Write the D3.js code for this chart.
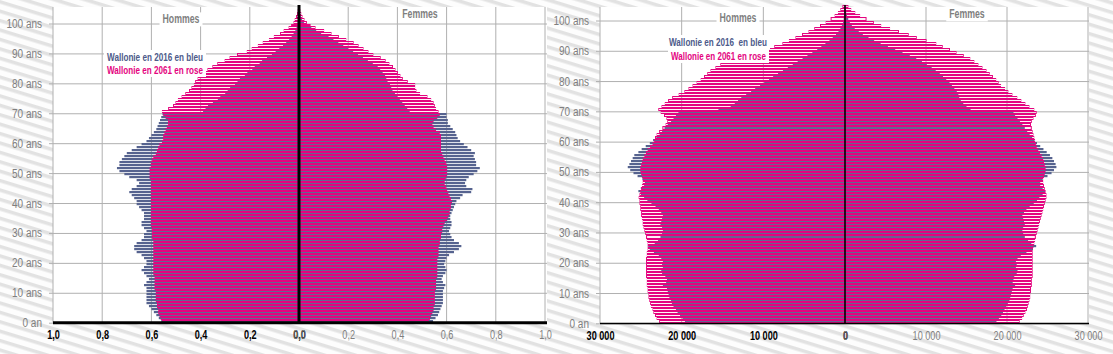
<!DOCTYPE html>
<html>
<head>
<meta charset="utf-8">
<script src="https://cdn.jsdelivr.net/npm/d3@7"></script>
<style>
  body { margin: 0; background: #fff; }
  text { font-family: "Liberation Sans", Arial, sans-serif; }
</style>
</head>
<body>
<script>
// ages 0..104, one bar per year
const ages = d3.range(0, 105);

// left panel : share of the population (%)
const pctH2016 = [0.56,0.57,0.58,0.59,0.60,0.61,0.62,0.62,0.62,0.62,
  0.62,0.62,0.63,0.62,0.61,0.62,0.63,0.64,0.63,0.62,
  0.62,0.63,0.64,0.66,0.67,0.67,0.66,0.64,0.63,0.63,
  0.62,0.63,0.64,0.64,0.63,0.63,0.63,0.64,0.65,0.66,
  0.66,0.67,0.68,0.69,0.68,0.66,0.65,0.66,0.69,0.71,
  0.73,0.74,0.73,0.73,0.72,0.71,0.70,0.68,0.66,0.64,
  0.62,0.61,0.60,0.59,0.58,0.575,0.57,0.565,0.56,0.555,
  0.39,0.38,0.37,0.35,0.33,0.32,0.30,0.29,0.28,0.26,
  0.25,0.24,0.22,0.21,0.19,0.18,0.16,0.15,0.13,0.11,
  0.095,0.08,0.065,0.052,0.04,0.03,0.022,0.015,0.01,0.007,
  0.005,0.003,0.002,0.001,0.001];
const pctH2061 = [0.555,0.56,0.565,0.57,0.57,0.575,0.575,0.58,0.58,0.58,
  0.58,0.585,0.585,0.585,0.585,0.585,0.59,0.59,0.59,0.59,
  0.59,0.59,0.59,0.59,0.59,0.59,0.59,0.59,0.595,0.595,
  0.595,0.595,0.60,0.60,0.60,0.60,0.60,0.60,0.60,0.60,
  0.60,0.60,0.60,0.60,0.60,0.60,0.60,0.60,0.605,0.605,
  0.605,0.605,0.60,0.60,0.595,0.59,0.58,0.575,0.57,0.565,
  0.555,0.55,0.55,0.545,0.54,0.535,0.53,0.53,0.54,0.55,
  0.555,0.53,0.51,0.50,0.49,0.475,0.46,0.445,0.435,0.425,
  0.42,0.41,0.40,0.385,0.37,0.35,0.33,0.30,0.28,0.25,
  0.21,0.19,0.165,0.145,0.12,0.10,0.075,0.06,0.04,0.03,
  0.02,0.015,0.01,0.006,0.003];
const pctF2016 = [0.545,0.555,0.565,0.57,0.575,0.58,0.585,0.585,0.585,0.585,
  0.585,0.59,0.595,0.585,0.58,0.585,0.595,0.60,0.595,0.59,
  0.595,0.60,0.61,0.63,0.65,0.66,0.65,0.63,0.62,0.615,
  0.61,0.615,0.62,0.62,0.615,0.615,0.62,0.625,0.63,0.635,
  0.64,0.655,0.665,0.70,0.705,0.68,0.675,0.68,0.69,0.71,
  0.725,0.735,0.72,0.72,0.715,0.71,0.715,0.70,0.685,0.67,
  0.655,0.645,0.64,0.635,0.625,0.615,0.605,0.605,0.60,0.60,
  0.45,0.44,0.43,0.42,0.41,0.40,0.39,0.38,0.375,0.37,
  0.36,0.355,0.35,0.34,0.33,0.32,0.30,0.28,0.26,0.24,
  0.22,0.20,0.18,0.16,0.14,0.12,0.09,0.07,0.05,0.03,
  0.02,0.012,0.007,0.004,0.002];
const pctF2061 = [0.525,0.53,0.535,0.54,0.545,0.545,0.55,0.55,0.55,0.55,
  0.55,0.555,0.555,0.555,0.555,0.56,0.56,0.56,0.56,0.56,
  0.56,0.56,0.565,0.565,0.565,0.565,0.57,0.57,0.575,0.575,
  0.58,0.58,0.585,0.59,0.60,0.605,0.61,0.61,0.615,0.615,
  0.62,0.615,0.61,0.605,0.60,0.595,0.59,0.59,0.595,0.60,
  0.60,0.60,0.60,0.595,0.59,0.585,0.58,0.575,0.575,0.575,
  0.575,0.575,0.575,0.57,0.555,0.545,0.54,0.545,0.56,0.57,
  0.565,0.555,0.55,0.545,0.535,0.52,0.49,0.475,0.47,0.47,
  0.44,0.42,0.41,0.40,0.39,0.38,0.365,0.35,0.33,0.30,
  0.28,0.26,0.24,0.22,0.19,0.16,0.13,0.10,0.065,0.045,
  0.03,0.02,0.012,0.007,0.003];

// right panel : number of people
const popH2016 = [19600,19900,20200,20500,20700,21000,21200,21300,21500,21600,
  21700,21800,22300,21900,21800,22000,22400,22500,22300,22400,
  22300,22500,22800,23400,23900,24100,23300,22900,22600,22400,
  22300,22400,22600,22500,22400,22300,22500,22800,23200,23700,
  24200,24600,25000,25300,25000,24600,24500,24800,25400,25900,
  26300,26600,26400,26200,26000,25800,25300,24900,24400,23900,
  23500,23100,22700,22400,22100,21700,21300,21000,20700,20400,
  15500,14000,13500,13100,12700,12100,11500,11000,10400,9900,
  9300,8800,8200,7600,7000,6400,5800,5200,4600,4000,
  3400,2900,2400,1900,1500,1100,800,560,380,250,
  160,100,60,30,15];
const popH2061 = [22700,23000,23200,23400,23500,23700,23800,23900,24000,24000,
  24100,24100,24200,24200,24200,24300,24300,24300,24300,24300,
  24300,24300,24200,24200,24100,24100,24100,24200,24300,24400,
  24500,24600,24700,24700,24800,24900,24900,25000,25000,25100,
  25100,25200,25100,25000,24900,24800,24700,24700,24800,24900,
  25000,25000,24900,24800,24700,24500,24300,24100,23800,23500,
  23300,23200,23000,22700,22300,21900,21700,21800,22100,22500,
  22800,22400,22000,21600,21100,20300,19600,19100,18600,18100,
  17600,17200,16800,16400,15800,15200,14700,14100,12800,11400,
  10000,8600,7600,6800,6000,5200,4400,3700,3000,2300,
  1700,1200,800,500,250];
const popF2016 = [18700,19000,19300,19500,19700,19900,20100,20300,20400,20500,
  20600,20700,21000,20700,20800,20900,21200,21300,21100,21200,
  21100,21300,21700,22400,23200,23600,23000,22600,22200,22000,
  21900,22000,22200,22100,22000,21900,22100,22400,22800,23300,
  23700,24000,24400,24700,24400,24100,24100,24400,25000,25500,
  25800,26100,26000,25800,25600,25300,24900,24500,24100,23700,
  23400,23100,22800,22500,22200,21900,21600,21300,21000,20800,
  15500,15000,14600,14300,14100,14000,13800,13500,13200,12900,
  12500,12100,11700,11200,10700,10100,9500,8800,8000,7100,
  6200,5300,4400,3600,2900,2200,1700,1200,850,600,
  400,250,150,80,40];
const popF2061 = [21500,21800,22000,22200,22400,22500,22600,22700,22800,22800,
  22900,22900,23000,23000,23000,23100,23100,23100,23100,23100,
  23100,23100,23100,23100,23100,23200,23300,23400,23500,23600,
  23700,23800,23900,24000,24100,24200,24300,24400,24500,24600,
  24700,24800,24800,24700,24600,24500,24400,24400,24500,24600,
  24700,24700,24600,24500,24400,24200,24000,23800,23600,23500,
  23400,23300,23200,23100,23000,22900,23000,23200,23500,23600,
  23300,22700,22200,21700,21200,20600,20100,19700,19200,18900,
  18600,18200,17800,17400,16900,16400,15900,15400,14600,13700,
  12900,12000,11200,10000,8800,7800,6600,5500,4400,3500,
  2600,1800,1200,700,350];

// tick labels
const ageTicks = [0, 10, 20, 30, 40, 50, 60, 70, 80, 90, 100];
const ageLabels = ["0 an", "10 ans", "20 ans", "30 ans", "40 ans", "50 ans", "60 ans", "70 ans", "80 ans", "90 ans", "100 ans"];
const pctTicks = [0, 0.2, 0.4, 0.6, 0.8, 1.0];
const pctLabels = ["0,0", "0,2", "0,4", "0,6", "0,8", "1,0"];
const popTicks = [0, 10000, 20000, 30000];
const popLabels = ["0", "10 000", "20 000", "30 000"];

const w = 1113;
const h = 354;
const blue = "#56638f";
const pink = "#e4047f";
const grey = "#7f7f7f";

// narrow-font look : squeeze the text horizontally
function squeeze(sel, k) {
  sel.each(function () {
    const len = this.getComputedTextLength();
    d3.select(this)
      .attr("textLength", len * k)
      .attr("lengthAdjust", "spacingAndGlyphs");
  });
}

const svg = d3.select("body")
  .append("svg")
  .attr("width", w)
  .attr("height", h);

// hatched background
const pat = svg.append("defs")
  .append("pattern")
  .attr("id", "hatch")
  .attr("patternUnits", "userSpaceOnUse")
  .attr("width", 20)
  .attr("height", 9)
  .attr("patternTransform", "rotate(17)");
pat.append("rect").attr("width", 20).attr("height", 9).attr("fill", "#fdfdfd");
pat.append("rect").attr("width", 20).attr("height", 3.5).attr("fill", "#e2e2e2");

svg.append("rect")
  .attr("width", w)
  .attr("height", h)
  .attr("fill", "url(#hatch)");

function drawPanel(p) {
  const g = svg.append("g");

  // plot box
  g.append("rect")
    .attr("x", p.x0)
    .attr("y", p.top)
    .attr("width", p.x1 - p.x0)
    .attr("height", p.bottom - p.top)
    .attr("fill", "#fff");

  // horizontal grid + age labels
  const yAxis = d3.axisLeft(p.y)
    .tickValues(ageTicks)
    .tickFormat((d, i) => ageLabels[i])
    .tickSize(p.x1 - p.x0 + 4)
    .tickPadding(7);
  const ya = g.append("g")
    .attr("transform", `translate(${p.x1},0)`)
    .call(yAxis);
  ya.select(".domain").remove();
  ya.selectAll("line").attr("stroke", "#b0b0b0");
  ya.selectAll("text")
    .attr("fill", grey)
    .style("font-size", "12.5px")
    .call(squeeze, 0.8);

  // vertical grid
  const gridX = p.men.ticks.map(d => p.men.x(d)).concat(p.women.ticks.map(d => p.women.x(d)));
  g.selectAll(".vgrid")
    .data(gridX)
    .enter()
    .append("line")
    .attr("x1", d => d)
    .attr("x2", d => d)
    .attr("y1", p.top)
    .attr("y2", p.bottom)
    .attr("stroke", "#b0b0b0");

  // bars : 2016 solid blue, 2061 pink outlines on top (snapped to pixels)
  const top = a => Math.round(p.y(a + 1));
  const bot = a => Math.round(p.y(a));
  [p.men, p.women].forEach(side => {
    g.append("g").selectAll("rect")
      .data(ages)
      .enter()
      .append("rect")
      .attr("x", a => Math.min(side.x(0), side.x(side.v2016[a])))
      .attr("y", a => top(a))
      .attr("width", a => Math.abs(side.x(side.v2016[a]) - side.x(0)))
      .attr("height", a => bot(a) - top(a) - 0.8)
      .attr("fill", blue);

    g.append("g").selectAll("rect")
      .data(ages)
      .enter()
      .append("rect")
      .attr("x", a => Math.min(side.x(0), side.x(side.v2061[a])))
      .attr("y", a => top(a) + 0.5)
      .attr("width", a => Math.abs(side.x(side.v2061[a]) - side.x(0)))
      .attr("height", a => bot(a) - top(a) - 1)
      .attr("fill", "rgba(240, 130, 185, 0.1)")
      .attr("stroke", pink)
      .attr("stroke-width", 1);
  });

  // centre line and base line
  g.append("line")
    .attr("x1", p.men.x(0)).attr("x2", p.men.x(0))
    .attr("y1", p.top - 2).attr("y2", p.bottom)
    .attr("stroke", "#000")
    .attr("stroke-width", p.centreW);
  g.append("line")
    .attr("x1", p.x0).attr("x2", p.x1)
    .attr("y1", p.bottom).attr("y2", p.bottom)
    .attr("stroke", "#000")
    .attr("stroke-width", p.baseW);

  // bottom tick labels : men bold black, women grey
  [[p.men, "#000", "bold"], [p.women, grey, "normal"]].forEach(([side, col, fw]) => {
    const ax = g.append("g")
      .attr("transform", `translate(0,${p.bottom})`)
      .call(d3.axisBottom(side.x)
        .tickValues(side.ticks)
        .tickFormat((d, i) => side.labels[i])
        .tickSize(0)
        .tickPadding(8));
    ax.select(".domain").remove();
    ax.selectAll("text")
      .attr("fill", col)
      .style("font-weight", fw)
      .style("font-size", "12px")
      .call(squeeze, 0.76);
  });

  // Hommes / Femmes
  p.titles.forEach(t => {
    const txt = g.append("text")
      .attr("x", t.x)
      .attr("y", t.y)
      .attr("dy", "0.35em")
      .attr("text-anchor", "middle")
      .attr("fill", grey)
      .style("font-size", "12.5px")
      .style("font-weight", "bold")
      .text(t.text)
      .call(squeeze, 0.7);
    const bb = txt.node().getBBox();
    g.insert("rect", () => txt.node())
      .attr("x", bb.x - 3).attr("y", bb.y)
      .attr("width", bb.width + 6).attr("height", bb.height)
      .attr("fill", "#fff");
  });

  // legend
  p.legend.forEach(t => {
    const txt = g.append("text")
      .attr("x", t.x)
      .attr("y", t.y)
      .attr("dy", "0.35em")
      .attr("fill", t.color)
      .style("font-size", "11.5px")
      .style("font-weight", "bold")
      .attr("xml:space", "preserve")
      .attr("textLength", t.len)
      .attr("lengthAdjust", "spacingAndGlyphs")
      .text(t.text);
    const bb = txt.node().getBBox();
    g.insert("rect", () => txt.node())
      .attr("x", bb.x - 3).attr("y", bb.y - 1)
      .attr("width", bb.width + 6).attr("height", bb.height + 2)
      .attr("fill", "#fff");
  });
}

// left panel (%)
drawPanel({
  x0: 53, x1: 547, top: 7, bottom: 322.7,
  y: d3.scaleLinear().domain([0, 100]).range([322.7, 23.5]),
  centreW: 3, baseW: 3,
  men: { x: d3.scaleLinear().domain([0, 1]).range([299, 53]), v2016: pctH2016, v2061: pctH2061, ticks: pctTicks, labels: pctLabels },
  women: { x: d3.scaleLinear().domain([0, 1]).range([299, 545]), v2016: pctF2016, v2061: pctF2061, ticks: pctTicks, labels: pctLabels },
  titles: [{ text: "Hommes", x: 181, y: 19 }, { text: "Femmes", x: 420, y: 14 }],
  legend: [
    { text: "Wallonie en 2016 en bleu", x: 107, y: 57, len: 96, color: "#4d5a8a" },
    { text: "Wallonie en 2061 en rose", x: 107, y: 70, len: 96, color: pink }
  ]
});

// right panel (people)
drawPanel({
  x0: 600, x1: 1089, top: 7, bottom: 323.5,
  y: d3.scaleLinear().domain([0, 100]).range([323.3, 20.5]),
  centreW: 1.6, baseW: 1.5,
  men: { x: d3.scaleLinear().domain([0, 30000]).range([845, 600]), v2016: popH2016, v2061: popH2061, ticks: popTicks, labels: popLabels },
  women: { x: d3.scaleLinear().domain([0, 30000]).range([845, 1088]), v2016: popF2016, v2061: popF2061, ticks: popTicks, labels: popLabels },
  titles: [{ text: "Hommes", x: 738, y: 18 }, { text: "Femmes", x: 967, y: 14 }],
  legend: [
    { text: "Wallonie en 2016  en bleu", x: 669, y: 42, len: 98, color: "#4d5a8a" },
    { text: "Wallonie en 2061 en rose", x: 671, y: 56, len: 95, color: pink }
  ]
});
</script>
</body>
</html>
